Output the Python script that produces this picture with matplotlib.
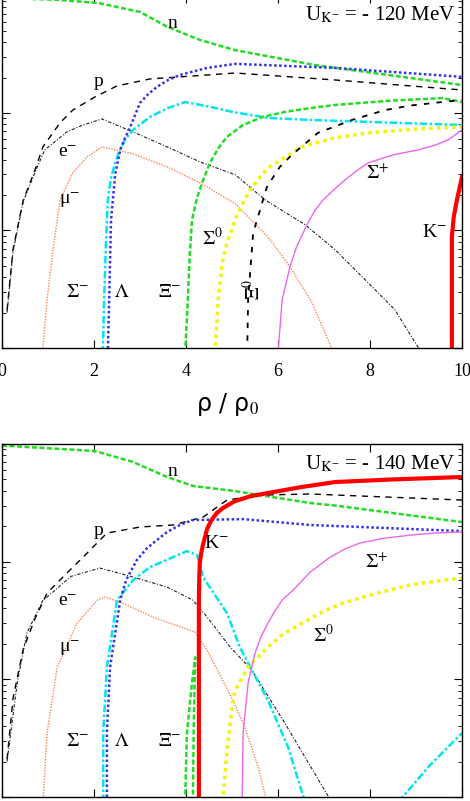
import numpy as np
import matplotlib
matplotlib.use('Agg')
import matplotlib.pyplot as plt

plt.rcParams['font.family'] = ['Liberation Serif', 'DejaVu Serif']
plt.rcParams['mathtext.fontset'] = 'stix'

nan = np.nan

# ---------- upper panel : U_K- = -120 MeV ----------
n1_x = [0.0, 1.2, 2.1, 3.0, 3.6, 4.3, 5.05, 6.8, 8.7, 10.0]
n1_y = [0.95, 0.92, 0.863, 0.724, 0.54, 0.419, 0.344, 0.256, 0.203, 0.173]

p1_x = [0.11, 0.24, 0.46, 0.72, 0.89, 1.26, 1.54, 2.02, 2.5, 3.22, 3.87, 5.07, 7.24, 10.0]
p1_y = [0.0021, 0.0069, 0.018, 0.033, 0.0515, 0.0824, 0.106, 0.137, 0.170, 0.195, 0.203, 0.219, 0.191, 0.157]

e1_x = [0.11, 0.24, 0.46, 0.72, 0.93, 1.41, 1.76, 2.17, 2.85, 3.59, 4.3, 5.07, 5.72, 6.59, 7.24, 7.96, 8.54, 9.09]
e1_y = [0.0020, 0.0066, 0.0175, 0.0315, 0.0485, 0.069, 0.079, 0.089, 0.069, 0.0515, 0.0384, 0.0298, 0.0182,
        0.0112, 0.00686, 0.00359, 0.00212, 0.00095]

mu1_x = [0.88, 0.98, 1.11, 1.26, 1.54, 1.85, 2.17, 2.85, 3.59, 4.3, 5.07, 5.78, 6.26, 6.74, 7.17]
mu1_y = [0.0009, 0.00258, 0.00686, 0.0182, 0.031, 0.0424, 0.0515, 0.0449, 0.0348, 0.0255, 0.0169, 0.00883,
         0.00491, 0.00243, 0.00099]

sm1_x = [2.19, 2.22, 2.26, 2.3, 2.36, 2.46, 2.56, 2.67, 2.85, 3.22, 3.6, 3.98, 4.52, 5.02, 5.78, 6.7, 10.0]
sm1_y = [0.0009, 0.0026, 0.008, 0.018, 0.027, 0.0377, 0.048, 0.059, 0.0718, 0.0927, 0.11, 0.124, 0.113,
         0.102, 0.0908, 0.0873, 0.079]

lam1_x = [2.3, 2.33, 2.37, 2.46, 2.57, 2.68, 2.78, 3.0, 3.18, 3.37, 3.6, 3.87, 4.46, 5.07, 7.24, 10.0]
lam1_y = [0.0009, 0.00258, 0.0123, 0.0298, 0.0485, 0.062, 0.0747, 0.122, 0.145, 0.167, 0.19, 0.211, 0.242,
          0.262, 0.242, 0.203]

xim1_x = [3.98, 4.04, 4.08, 4.13, 4.24, 4.35, 4.52, 4.7, 4.89, 5.24, 5.67, 6.2, 6.7, 7.24, 8.4, 9.57, 10.0]
xim1_y = [0.0009, 0.00258, 0.006, 0.0123, 0.019, 0.0255, 0.0377, 0.05, 0.0627, 0.079, 0.0927, 0.103, 0.110,
          0.117, 0.127, 0.134, 0.124]

s01_x = [4.63, 4.7, 4.8, 4.89, 5.13, 5.39, 5.6, 5.78, 6.52, 7.2, 7.96, 9.0, 10.0]
s01_y = [0.0009, 0.00258, 0.00564, 0.00785, 0.0142, 0.0222, 0.028, 0.0341, 0.0515, 0.061, 0.0678, 0.073, 0.0762]

xi01_x = [5.33, 5.35, 5.46, 5.61, 5.76, 6.04, 6.3, 6.87, 7.61, 8.33, 8.9, 9.57, 10.0]
xi01_y = [0.0009, 0.00258, 0.00955, 0.015, 0.0235, 0.0348, 0.044, 0.0678, 0.0873, 0.106, 0.116, 0.124, 0.129]

sp1_x = [6.0, 6.09, 6.26, 6.4, 6.63, 6.8, 6.98, 7.2, 7.46, 7.7, 7.96, 8.5, 9.04, 9.4, 9.7, 10.0]
sp1_y = [0.0009, 0.00258, 0.00491, 0.0072, 0.0112, 0.0148, 0.0182, 0.022, 0.027, 0.032, 0.0377, 0.044,
         0.0485, 0.053, 0.059, 0.0718]

k1_x = [9.78, 9.78, 9.82, 9.89, 10.0]
k1_y = [0.0009, 0.00883, 0.013, 0.0182, 0.0286]

# ---------- lower panel : U_K- = -140 MeV ----------
n2_x = [0.0, 2.02, 2.85, 3.59, 4.15, 5.07, 5.61, 6.7, 7.24, 10.0]
n2_y = [0.97, 0.872, 0.703, 0.524, 0.44, 0.398, 0.368, 0.315, 0.30, 0.217]

p2_x = [0.11, 0.24, 0.46, 0.72, 0.98, 1.41, 1.76, 2.28, 3.0, 3.72, 4.37, 4.89, 5.61, 6.7, 10.0]
p2_y = [0.0021, 0.0069, 0.018, 0.033, 0.054, 0.08, 0.109, 0.175, 0.197, 0.205, 0.239, 0.334, 0.368, 0.376, 0.334]

e2_x = [0.11, 0.33, 0.54, 0.89, 0.98, 1.5, 2.13, 2.85, 3.59, 4.15, 4.46, 4.96, 5.43, 6.15, 7.17]
e2_y = [0.0020, 0.0093, 0.0247, 0.0471, 0.05, 0.075, 0.0882, 0.074, 0.0608, 0.0471, 0.0338, 0.0188, 0.012,
        0.00424, 0.0009]

mu2_x = [0.89, 0.98, 1.2, 1.63, 2.07, 2.24, 2.57, 3.28, 4.2, 4.46, 5.02, 5.28, 5.57, 5.76]
mu2_y = [0.0009, 0.00349, 0.0127, 0.03, 0.0471, 0.05, 0.0453, 0.0338, 0.0252, 0.0177, 0.00665, 0.00392,
         0.00179, 0.0009]

sm2_x = [2.2, 2.2, 2.28, 2.5, 2.85, 3.22, 4.02, 4.24, 4.37, 4.89, 5.17, 5.43, 5.78, 6.22, 6.59,
         nan, 8.61, 9.3, 10.0]
sm2_y = [0.0009, 0.00349, 0.0127, 0.0471, 0.0698, 0.09, 0.123, 0.114, 0.074, 0.0366, 0.0188, 0.012,
         0.00665, 0.00265, 0.0009, nan, 0.0009, 0.00186, 0.00349]

lam2_x = [2.28, 2.28, 2.35, 2.57, 2.7, 2.93, 3.15, 3.37, 3.6, 3.87, 4.15, 5.24, 6.7, 10.0]
lam2_y = [0.0009, 0.00349, 0.0127, 0.0471, 0.07, 0.103, 0.13, 0.153, 0.18, 0.205, 0.226, 0.23, 0.205, 0.182]

xim2_x = [3.98, 4.02, 4.13, 4.2, 4.17, 4.15]
xim2_y = [0.0009, 0.00349, 0.0093, 0.0154, 0.0045, 0.0009]

s02_x = [4.8, 4.89, 5.02, 5.07, 5.35, 5.78, 6.1, 6.52, 7.0, 7.41, 8.15, 8.87, 9.4, 10.0]
s02_y = [0.0009, 0.0025, 0.00665, 0.0081, 0.0127, 0.0188, 0.024, 0.03, 0.038, 0.0445, 0.054, 0.0633, 0.068,
         0.0726]

sp2_x = [5.22, 5.24, 5.35, 5.5, 5.63, 5.78, 5.93, 6.09, 6.33, 6.7, 7.13, 7.45, 7.78, 8.3, 8.87, 9.4, 10.0]
sp2_y = [0.0009, 0.00349, 0.0093, 0.0167, 0.023, 0.03, 0.038, 0.0471, 0.0574, 0.0816, 0.109, 0.128, 0.144,
         0.158, 0.168, 0.175, 0.179]

k2_x = [4.28, 4.28, 4.29, 4.3, 4.33, 4.37, 4.46, 4.55, 4.67, 4.8, 5.05, 5.4, 5.78, 6.5, 7.24, 8.5, 10.0]
k2_y = [0.0009, 0.0471, 0.075, 0.0973, 0.118, 0.14, 0.19, 0.225, 0.259, 0.285, 0.325, 0.36, 0.383, 0.43,
        0.475, 0.50, 0.524]

# line styles per particle
styles = {
    'n':   dict(color='#22dd22', lw=1.8, ls=(0, (2.0, 1.0))),
    'p':   dict(color='black', lw=1.0, ls=(0, (4.5, 4.0))),
    'e':   dict(color='#222222', lw=0.8, ls=(0, (3.0, 1.5, 1.0, 1.5))),
    'mu':  dict(color='#ff8050', lw=1.0, ls=(0, (1.0, 1.0))),
    'sm':  dict(color='#00e5ee', lw=1.8, ls=(0, (3.0, 1.0, 1.0, 1.0))),
    'lam': dict(color='#3333ee', lw=1.8, ls=(0, (1.0, 1.0))),
    'xim': dict(color='#22dd22', lw=1.8, ls=(0, (2.0, 1.0))),
    's0':  dict(color='#f4f400', lw=2.5, ls=(0, (1.0, 1.2))),
    'xi0': dict(color='black', lw=1.3, ls=(0, (3.0, 4.0))),
    'sp':  dict(color='#ee66ee', lw=1.0, ls='-'),
    'k':   dict(color='#ff0000', lw=3.0, ls='-'),
}

top_curves = [('n', n1_x, n1_y), ('p', p1_x, p1_y), ('e', e1_x, e1_y), ('mu', mu1_x, mu1_y),
              ('sm', sm1_x, sm1_y), ('lam', lam1_x, lam1_y), ('xim', xim1_x, xim1_y),
              ('s0', s01_x, s01_y), ('xi0', xi01_x, xi01_y), ('sp', sp1_x, sp1_y), ('k', k1_x, k1_y)]
bot_curves = [('n', n2_x, n2_y), ('p', p2_x, p2_y), ('e', e2_x, e2_y), ('mu', mu2_x, mu2_y),
              ('sm', sm2_x, sm2_y), ('lam', lam2_x, lam2_y), ('xim', xim2_x, xim2_y),
              ('s0', s02_x, s02_y), ('sp', sp2_x, sp2_y), ('k', k2_x, k2_y)]

# labels: text, x, y
top_labels = [('n', 3.7, 0.58), ('p', 2.09, 0.184), ('e$^{-}$', 1.43, 0.0458), ('μ$^{-}$', 1.48, 0.0182),
              (r'$\Sigma^{-}$', 1.65, 0.00295), (r'$\Lambda$', 2.61, 0.00295), (r'$\Xi^{-}$', 3.65, 0.00295),
              (r'$\Sigma^{0}$', 4.57, 0.00867), (r'$\Sigma^{+}$', 8.17, 0.031), ('K$^{-}$', 9.41, 0.00955)]
bot_labels = [('n', 3.7, 0.58), ('p', 2.09, 0.184), ('e$^{-}$', 1.43, 0.0458), ('μ$^{-}$', 1.48, 0.0182),
              (r'$\Sigma^{-}$', 1.65, 0.00295), (r'$\Lambda$', 2.61, 0.00295), (r'$\Xi^{-}$', 3.65, 0.00295),
              ('K$^{-}$', 4.67, 0.144), (r'$\Sigma^{+}$', 8.15, 0.099), (r'$\Sigma^{0}$', 6.98, 0.0238)]


def setup_axes(ax):
    ax.set_yscale('log')
    ax.set_xlim(0, 10)
    ax.set_ylim(1e-3, 1.0)
    ax.set_xticks([0, 2, 4, 6, 8, 10])
    ax.tick_params(which='both', direction='in', top=True, right=True, labelleft=False)
    ax.tick_params(which='major', length=6, width=0.8)
    ax.tick_params(which='minor', length=3, width=0.6)
    for s in ax.spines.values():
        s.set_linewidth(1.0)


def draw(ax, curves, labels, ulabel):
    for key, xs, ys in curves:
        ax.plot(xs, ys, **styles[key])
    for txt, x, y in labels:
        ax.text(x, y, txt, fontsize=14, ha='center', va='center')
    ax.text(9.85, 0.68, ulabel, fontsize=15, ha='right', va='center')


fig = plt.figure(figsize=(4.7, 8.01), dpi=100)
ax1 = fig.add_axes([2 / 470, 1 - 348 / 801, 460 / 470, 352.5 / 801])
ax2 = fig.add_axes([2 / 470, 4 / 801, 460 / 470, 353 / 801])

setup_axes(ax1)
setup_axes(ax2)

draw(ax1, top_curves, top_labels, r'U$_{\mathrm{K}^{-}}$ = - 120 MeV')
ax1.text(5.46, 0.00313, r'$\Xi^{0}$', fontsize=14, ha='center', va='center', rotation=90)
ax1.tick_params(axis='x', labelsize=13, pad=11)

draw(ax2, bot_curves, bot_labels, r'U$_{\mathrm{K}^{-}}$ = - 140 MeV')
ax2.tick_params(axis='x', labelbottom=False)

fig.text(228 / 470, 1 - 404 / 801, 'ρ / ρ$_{0}$', family='DejaVu Sans', fontsize=17,
         ha='center', va='center')

fig.savefig('out.png', dpi=100)
